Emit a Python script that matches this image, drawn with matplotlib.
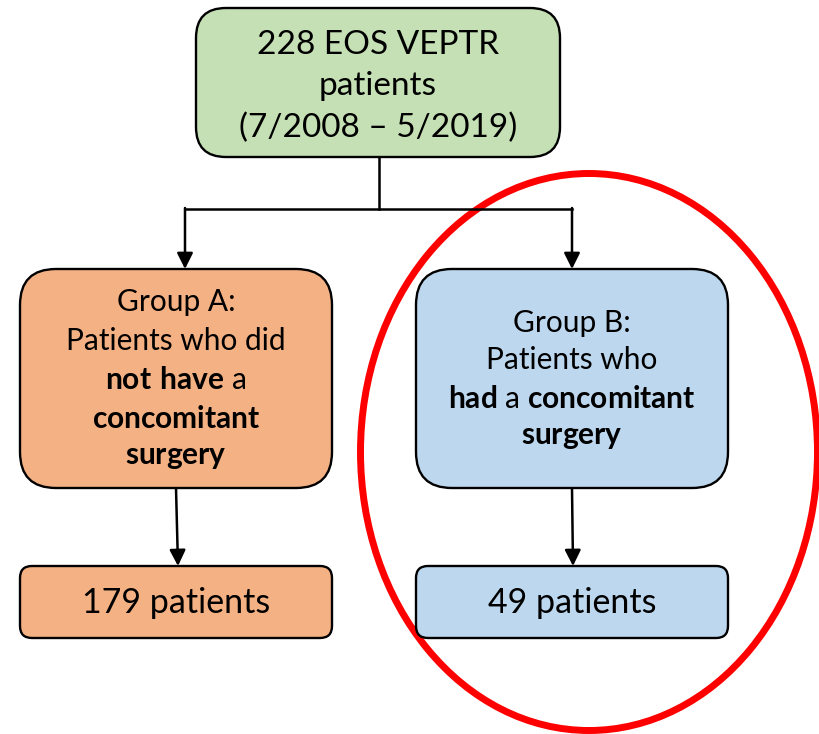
import matplotlib
matplotlib.use("Agg")
import matplotlib.pyplot as plt
from matplotlib.patches import FancyBboxPatch, Ellipse, FancyArrowPatch

plt.rcParams['font.family'] = ['Lato', 'DejaVu Sans']
plt.rcParams['mathtext.fontset'] = 'custom'
plt.rcParams['mathtext.rm'] = 'Lato'
plt.rcParams['mathtext.bf'] = 'Lato:bold'

# flowchart content
top_lines = ["228 EOS VEPTR", "patients", "(7/2008 \u2013 5/2019)"]
group_a_lines = ["Group A:", "Patients who did", r"$\mathbf{not\ have}$ a",
                 r"$\mathbf{concomitant}$", r"$\mathbf{surgery}$"]
group_b_lines = ["Group B:", "Patients who", r"$\mathbf{had}$ a $\mathbf{concomitant}$",
                 r"$\mathbf{surgery}$"]
counts = [179, 49]
count_labels = [f"{n} patients" for n in counts]

green = "#C5E0B4"
orange = "#F4B183"
blue = "#BDD7EE"

fig = plt.figure(figsize=(8.19, 7.34), dpi=100)
ax = fig.add_axes([0, 0, 1, 1])
ax.set_xlim(0, 819)
ax.set_ylim(734, 0)
ax.axis("off")


def box(x0, y0, x1, y1, color, r):
    p = FancyBboxPatch((x0, y0), x1 - x0, y1 - y0,
                       boxstyle=f"round,pad=0,rounding_size={r}",
                       fc=color, ec="black", lw=1.7, zorder=3)
    ax.add_patch(p)


def arrow(x0, y0, x1, y1):
    a = FancyArrowPatch((x0, y0), (x1, y1), arrowstyle="-|>", mutation_scale=24,
                        color="black", lw=1.8, shrinkA=0, shrinkB=0, zorder=2)
    ax.add_patch(a)


# red ellipse highlighting group B
ax.add_patch(Ellipse((589, 452), 457, 557, fill=False, ec="#FF0000", lw=5, zorder=1))

# boxes
box(196, 8, 560, 157, green, 30)
box(20, 269, 332, 488, orange, 36)
box(416, 269, 728, 488, blue, 36)
box(20, 566, 332, 638, orange, 12)
box(416, 566, 728, 638, blue, 12)

# connectors
ax.plot([379, 379], [157, 209], color="black", lw=1.8, zorder=2)
ax.plot([185, 572], [209, 209], color="black", lw=1.8, zorder=2)
arrow(185, 208, 185, 269)
arrow(572, 208, 572, 269)
arrow(176, 488, 178, 566)
arrow(572, 488, 573, 566)

# texts
for txt, y in zip(top_lines, [45, 86, 128]):
    ax.text(378, y, txt, ha="center", va="center", fontsize=24, zorder=4)
for txt, y in zip(group_a_lines, [302, 341, 380, 419, 457]):
    ax.text(176, y, txt, ha="center", va="center", fontsize=21.5, zorder=4)
for txt, y in zip(group_b_lines, [323, 360, 399, 437]):
    ax.text(572, y, txt, ha="center", va="center", fontsize=21.5, zorder=4)
for txt, x in zip(count_labels, [176, 572]):
    ax.text(x, 603, txt, ha="center", va="center", fontsize=24.5, zorder=4)

fig.savefig("out.png", dpi=100)
